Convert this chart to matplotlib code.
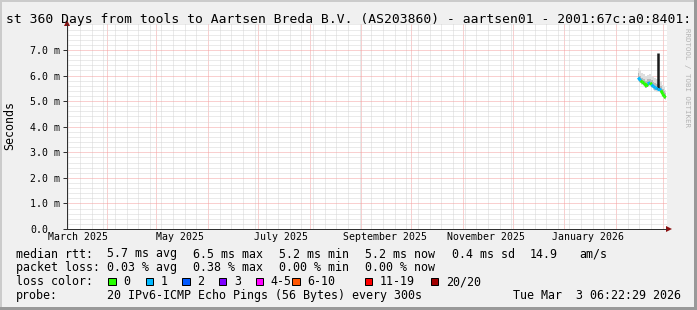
import matplotlib
matplotlib.use('Agg')
import matplotlib.pyplot as plt
import matplotlib.dates as mdates
from matplotlib.ticker import MultipleLocator
from matplotlib.patches import Rectangle
import pandas as pd

W, H = 697, 310
MONO = 'DejaVu Sans Mono'

title = "st 360 Days from tools to Aartsen Breda B.V. (AS203860) - aartsen01 - 2001:67c:a0:8401:"
end_time = pd.Timestamp("2026-03-03 06:22:29")
span_days = 360

# median rtt (ms) and loss count per consolidated sample
times = pd.to_datetime([
    "2026-02-14 06:00", "2026-02-15 18:00", "2026-02-16 18:00", "2026-02-18 00:00",
    "2026-02-19 06:00", "2026-02-19 22:00", "2026-02-21 12:00", "2026-02-22 06:00",
    "2026-02-23 12:00", "2026-02-24 12:00", "2026-02-25 18:00", "2026-02-27 00:00",
    "2026-02-28 00:00", "2026-03-01 00:00", "2026-03-02 00:00", "2026-03-02 18:00",
])
median_ms = [5.92, 5.80, 5.74, 5.70, 5.57, 5.68, 5.72, 5.64,
             5.57, 5.52, 5.48, 5.48, 5.42, 5.28, 5.18, 5.13]
loss = [1, 1, 0, 0, 0, 0, 1, 0, 1, 1, 1, 1, 1, 0, 0, 0]
# smoke (ping spread)
smoke_lo = [5.78, 5.70, 5.62, 5.58, 5.50, 5.55, 5.60, 5.52,
            5.45, 5.40, 5.36, 5.36, 5.30, 5.18, 5.10, 5.05]
smoke_hi = [6.30, 6.20, 6.10, 6.05, 6.00, 6.02, 6.05, 6.00,
            5.95, 5.92, 5.85, 5.85, 5.78, 5.65, 5.55, 5.45]
smoke_in_lo = [5.84, 5.74, 5.66, 5.62, 5.52, 5.60, 5.64, 5.57,
               5.50, 5.45, 5.42, 5.42, 5.36, 5.22, 5.13, 5.08]
smoke_in_hi = [6.10, 6.00, 5.92, 5.88, 5.80, 5.85, 5.88, 5.82,
               5.75, 5.72, 5.68, 5.66, 5.60, 5.48, 5.38, 5.30]
spike_time = pd.Timestamp("2026-02-26 08:00")
spike_lo, spike_hi = 5.48, 6.90

month_labels = pd.to_datetime(["2025-03-15", "2025-05-15", "2025-07-15",
                               "2025-09-15", "2025-11-15", "2026-01-15"])

loss_labels = ["0", "1", "2", "3", "4-5", "6-10", "11-19", "20/20"]
loss_colors = ["#26ff00", "#00b8ff", "#0059ff", "#7e00ff",
               "#ff00ff", "#ff5500", "#ff0000", "#a10000"]

rtt_stats = ["5.7 ms avg", "6.5 ms max", "5.2 ms min", "5.2 ms now", "0.4 ms sd", "14.9", "am/s"]
loss_stats = ["0.03 % avg", "0.38 % max", "0.00 % min", "0.00 % now"]
probe_text = "20 IPv6-ICMP Echo Pings (56 Bytes) every 300s"
stamp_text = "Tue Mar  3 06:22:29 2026"


def fx(x):
    return x / W


def fy(y):
    return 1 - y / H


fig = plt.figure(figsize=(W / 100, H / 100), dpi=100, facecolor='#f0f0f0')

# frame
fig.add_artist(Rectangle((0, fy(2)), 1, 2 / H, color='#cbcbcb', transform=fig.transFigure, lw=0))
fig.add_artist(Rectangle((0, 0), 2 / W, 1, color='#cbcbcb', transform=fig.transFigure, lw=0))
fig.add_artist(Rectangle((fx(694), 0), 3 / W, 1, color='#999999', transform=fig.transFigure, lw=0))
fig.add_artist(Rectangle((0, 0), 1, 3 / H, color='#999999', transform=fig.transFigure, lw=0))

fig.text(fx(686.5), fy(28), "RRDTOOL / TOBI OETIKER", rotation=270, ha='center', va='top',
         fontsize=5.4, family=MONO, color='#b4b4b4')
fig.text(0.5, fy(23.3), title, ha='center', va='baseline', fontsize=9.4, family=MONO, color='#000000')
fig.text(fx(10), fy(125), "Seconds", rotation=90, ha='center', va='center', fontsize=8.4, family=MONO)

ax = fig.add_axes([fx(67), fy(229), (666.5 - 67) / W, (229 - 24.4) / H])
ax.set_facecolor('white')
ax.set_xlim(end_time - pd.Timedelta(days=span_days), end_time)
ax.set_ylim(0, 8)

# grid
ax.xaxis.set_major_locator(mdates.MonthLocator())
ax.xaxis.set_minor_locator(mdates.WeekdayLocator(byweekday=mdates.SU))
ax.set_yticks(range(8), labels=["%.1f m" % v if v else "0.0" for v in range(8)])
ax.yaxis.set_minor_locator(MultipleLocator(0.2))
ax.grid(which='minor', color='#d6d6d6', linestyle=(0, (1, 1)), lw=0.72)
ax.grid(which='major', color='#f4a0a0', linestyle=(0, (1, 1)), lw=0.72)
ax.set_axisbelow(True)

ax.tick_params(axis='x', which='both', length=0, labelbottom=False)
ax.tick_params(axis='y', which='minor', length=0)
ax.tick_params(axis='y', which='major', length=2.9, width=0.72, color='#303030', pad=23.8,
               labelsize=7.1, labelfontfamily=MONO)
for lab in ax.get_yticklabels():
    lab.set_horizontalalignment('left')

for s in ['top', 'right']:
    ax.spines[s].set_visible(False)
for s in ['left', 'bottom']:
    ax.spines[s].set_color('#303030')
    ax.spines[s].set_linewidth(0.72)

for d in month_labels:
    ax.text(d, -0.0562, d.strftime('%B %Y'), transform=ax.get_xaxis_transform(),
            ha='center', va='baseline', fontsize=7.1, family=MONO)

# arrows
ax.plot([1.0035], [0], marker='>', ms=4, color='#8b1010', mew=0, transform=ax.transAxes, clip_on=False)
ax.plot([0], [1.0068], marker='^', ms=4, color='#8b1010', mew=0, transform=ax.transAxes, clip_on=False)

# smoke
ax.fill_between(times, smoke_lo, smoke_hi, color='#dedede', lw=0, step='mid')
ax.fill_between(times, smoke_in_lo, smoke_in_hi, color='#b8b8b8', lw=0, step='mid')
ax.vlines(spike_time, spike_lo, spike_hi, color='#1a1a1a', lw=1.8)

# median line, coloured by loss
for i in range(1, len(times)):
    ax.plot(times[i - 1:i + 1], median_ms[i - 1:i + 1], color=loss_colors[loss[i]],
            lw=2.2, solid_capstyle='butt')

# legend
rows = [257.5, 271.3, 285.3, 299.3]
cols = [107, 193, 279, 365, 452, 530, 579]
fig.text(fx(16), fy(rows[0]), "median rtt:", fontsize=8.4, family=MONO, va='baseline')
for txt, x in zip(rtt_stats, cols):
    fig.text(fx(x), fy(rows[0]), txt, fontsize=8.4, family=MONO, va='baseline')
fig.text(fx(16), fy(rows[1]), "packet loss:", fontsize=8.4, family=MONO, va='baseline')
for txt, x in zip(loss_stats, cols):
    fig.text(fx(x), fy(rows[1]), txt, fontsize=8.4, family=MONO, va='baseline')

fig.text(fx(16), fy(rows[2]), "loss color:", fontsize=8.4, family=MONO, va='baseline')
box_x = [108.3, 145.7, 182.3, 219, 255.7, 292.3, 365, 430.7]
for lab, col, x in zip(loss_labels, loss_colors, box_x):
    fig.add_artist(Rectangle((fx(x), fy(285)), 7.3 / W, 7.3 / H, facecolor=col,
                             edgecolor='black', lw=0.72, transform=fig.transFigure))
    fig.text(fx(x + 15), fy(rows[2]), lab, fontsize=8.4, family=MONO, va='baseline')

fig.text(fx(16), fy(rows[3]), "probe:", fontsize=8.4, family=MONO, va='baseline')
fig.text(fx(107), fy(rows[3]), probe_text, fontsize=8.4, family=MONO, va='baseline')
fig.text(fx(513), fy(rows[3]), stamp_text, fontsize=8.4, family=MONO, va='baseline')

fig.savefig('out.png', dpi=100, facecolor=fig.get_facecolor())
